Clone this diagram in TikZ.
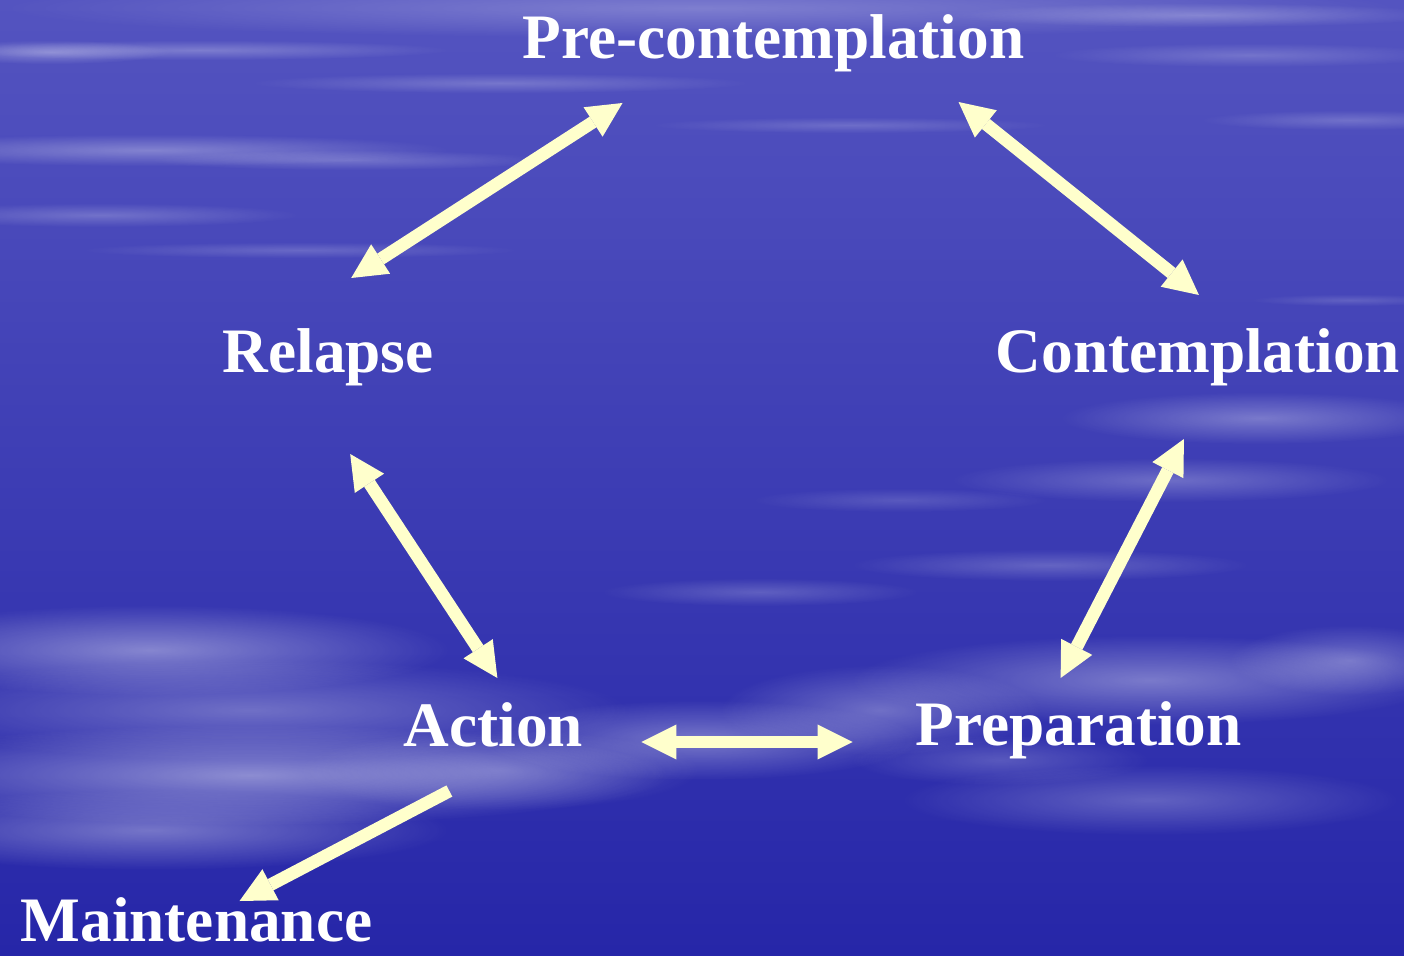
\documentclass[tikz,border=0pt]{standalone}
\usepackage{fontspec}
\setmainfont{Liberation Serif}
\usepackage{xcolor}
\usepackage{tikz}
\usetikzlibrary{arrows.meta, calc, fadings}
\definecolor{skytop}{RGB}{84, 84, 192}
\definecolor{skymid}{RGB}{46, 46, 178}
\definecolor{skybot}{RGB}{38, 38, 168}
\definecolor{cream}{RGB}{255, 255, 204}
\tikzfading[name=soft edge, inner color=transparent!0, outer color=transparent!100]

\begin{document}
\begin{tikzpicture}[
    x=0.01cm, y=-0.01cm,
    stage/.style={anchor=base west, inner sep=0pt, text=white, font=\fontsize{18}{20}\selectfont\bfseries},
    cloud/.style={fill=white, path fading=soft edge},
    cyclearrow/.style={{Triangle[length=3.5mm, width=3.5mm, line width=0pt]}-{Triangle[length=3.5mm, width=3.5mm, line width=0pt]}, line width=3.6pt, color=cream},
    exitarrow/.style={-{Triangle[length=3.5mm, width=3.5mm, line width=0pt]}, line width=3.6pt, color=cream}
]

    % Sky background
    \useasboundingbox (0,0) rectangle (1404,955);
    \shade[top color=skytop, middle color=skymid, bottom color=skybot] (0,0) rectangle (1404,955);
    \begin{scope}
        \clip (0,0) rectangle (1404,955);
        \foreach \cx/\cy/\rx/\ry/\op in {
            700/8/700/30/0.25, 200/50/250/10/0.25, 1200/15/250/12/0.25, 50/52/120/12/0.3,
            500/83/250/10/0.22, 1250/55/200/12/0.2, 150/150/300/16/0.3, 350/160/200/10/0.22,
            100/215/200/12/0.22, 300/250/220/8/0.18, 850/125/200/8/0.18, 1350/120/150/10/0.2,
            1350/300/100/6/0.15,
            1260/418/200/26/0.3, 1170/480/220/22/0.25, 900/500/150/12/0.15,
            1050/565/200/16/0.22, 760/592/160/14/0.2,
            150/650/300/45/0.4, 250/710/380/50/0.3, 250/775/420/50/0.45, 150/830/300/40/0.35,
            500/770/200/40/0.25,
            700/740/220/40/0.35, 880/710/160/45/0.3,
            1150/680/300/45/0.35, 1350/660/120/35/0.3, 1150/800/250/35/0.25, 1000/760/150/25/0.2}
            \fill[cloud, fill opacity=\op] (\cx,\cy) ellipse [x radius=\rx, y radius=\ry];
    \end{scope}

    % Stages
    \node[stage] (pre) at (522,59) {Pre-contemplation};
    \node[stage] (contemp) at (995,373) {Contemplation};
    \node[stage] (prep) at (915,745) {Preparation};
    \node[stage] (action) at (403,746) {Action};
    \node[stage] (relapse) at (222,372) {Relapse};
    \node[stage] (maint) at (20,941) {Maintenance};

    % Cycle
    \draw[cyclearrow] ([shift={(23,-94)}]relapse.base) -- ([shift={(-151,44)}]pre.base);
    \draw[cyclearrow] ([shift={(185,43)}]pre.base) -- ([shift={(1,-78)}]contemp.base);
    \draw[cyclearrow] ([shift={(-14,66)}]contemp.base) -- ([shift={(-18,-67)}]prep.base);
    \draw[cyclearrow] ([shift={(148,-4)}]action.base) -- ([shift={(-226,-3)}]prep.base);
    \draw[cyclearrow] ([shift={(22,82)}]relapse.base) -- ([shift={(4,-68)}]action.base);

    % Way out
    \draw[exitarrow] ([shift={(-44,45)}]action.base) -- ([shift={(43,-40)}]maint.base);

\end{tikzpicture}
\end{document}
